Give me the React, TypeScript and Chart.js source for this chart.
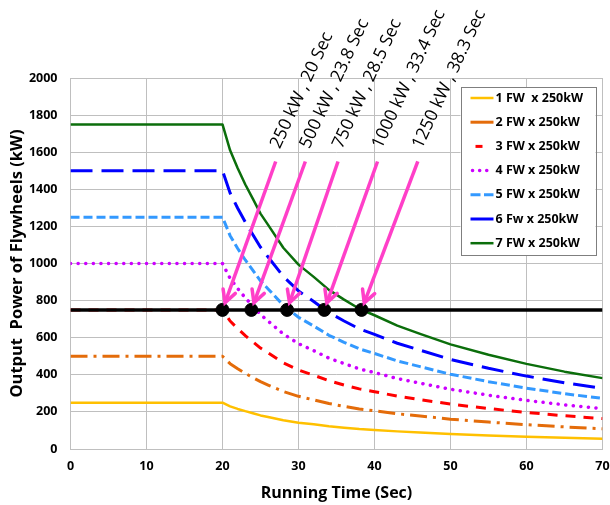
import React, { useEffect, useRef } from "react";
import { Chart, registerables } from "chart.js";

Chart.register(...registerables);

// ---- data ----
const times = [0, 20, 21, 22, 23, 24, 25, 26, 28, 30, 32, 34, 36, 38, 40, 43, 46, 50, 55, 60, 65, 70];
const fw1 = [250, 250, 230, 216, 204, 193, 181, 173, 155, 142, 133, 123, 115, 108, 103, 95, 89, 81, 73, 66, 60, 55];
const fw2 = [500, 500, 460, 433, 408, 385, 363, 345, 310, 284, 265, 245, 230, 216, 206, 190, 178, 161, 145, 131, 119, 109];
const fw3 = [750, 750, 690, 649, 611, 578, 544, 518, 465, 426, 398, 368, 345, 324, 309, 285, 266, 242, 218, 197, 179, 164];
const fw4 = [1000, 1000, 920, 865, 815, 770, 725, 690, 620, 568, 530, 490, 460, 432, 412, 380, 355, 322, 290, 262, 238, 218];
const fw5 = [1250, 1250, 1150, 1081, 1019, 963, 906, 863, 775, 710, 663, 613, 575, 540, 515, 475, 444, 403, 363, 328, 298, 273];
const fw6 = [1500, 1500, 1380, 1298, 1223, 1155, 1088, 1035, 930, 852, 795, 735, 690, 648, 618, 570, 533, 483, 435, 393, 357, 327];
const fw7 = [1750, 1750, 1610, 1514, 1426, 1348, 1269, 1208, 1085, 994, 928, 858, 805, 756, 721, 665, 621, 564, 508, 459, 417, 382];
const seriesLabels = [
  "1 FW  x 250kW",
  "2 FW x 250kW",
  "3 FW x 250kW",
  "4 FW x 250kW",
  "5 FW x 250kW",
  "6 Fw x 250kW",
  "7 FW x 250kW",
];
const limitX = [0, 70];
const limitY = [750, 750];
const markTimes = [20, 23.8, 28.5, 33.4, 38.3];
const markPower = [750, 750, 750, 750, 750];
const markLabels = [
  "250 kW , 20 Sec",
  "500 kW , 23.8 Sec",
  "750 kW , 28.5 Sec",
  "1000 kW , 33.4 Sec",
  "1250 kW , 38.3 Sec",
];
const arrowFromX = [27.0, 30.9, 35.2, 40.4, 45.7];
const arrowFromY = [1550, 1550, 1550, 1550, 1550];
const xMin = 0, xMax = 70, xStep = 10;
const yMin = 0, yMax = 2000, yStep = 200;
const xTitle = "Running Time (Sec)";
const yTitle = "Output  Power of Flywheels (kW)";

// ---- styles ----
const seriesValues = [fw1, fw2, fw3, fw4, fw5, fw6, fw7];
const seriesStyles = [
  { color: "#FFC000", width: 2.5, dash: [] as number[], cap: "butt" },
  { color: "#E46C0A", width: 3, dash: [17, 6, 3, 6], cap: "butt" },
  { color: "#FF0000", width: 3, dash: [10, 8], cap: "butt" },
  { color: "#CC00FF", width: 3.5, dash: [0.1, 7.5], cap: "round" },
  { color: "#3399FF", width: 3, dash: [9, 4], cap: "butt" },
  { color: "#0000FF", width: 3, dash: [22, 9], cap: "butt" },
  { color: "#0B6E0B", width: 2.5, dash: [] as number[], cap: "butt" },
];
const legendSamples = [
  { from: 0, to: 23, dash: [] as number[], cap: "butt" },
  { from: 0, to: 23, dash: [] as number[], cap: "butt" },
  { from: 5, to: 12, dash: [] as number[], cap: "butt" },
  { from: 2, to: 17, dash: [0.1, 7], cap: "round" },
  { from: 0, to: 23, dash: [10, 3.5], cap: "butt" },
  { from: 0, to: 23, dash: [] as number[], cap: "butt" },
  { from: 0, to: 23, dash: [] as number[], cap: "butt" },
];
const PINK = "#FF3FC8";
const GRID = "#BFBFBF";
const FONT = "'Open Sans', 'DejaVu Sans', sans-serif";

const overlayPlugin = {
  id: "overlay",
  afterDatasetsDraw(chart: any) {
    const ctx = chart.ctx;
    const xs = chart.scales.x;
    const ys = chart.scales.y;
    ctx.save();
    for (let i = 0; i < markTimes.length; i++) {
      const sx = xs.getPixelForValue(arrowFromX[i]);
      const sy = ys.getPixelForValue(arrowFromY[i]);
      const dx0 = xs.getPixelForValue(markTimes[i]);
      const dy0 = ys.getPixelForValue(markPower[i]);
      const ang = Math.atan2(dy0 - sy, dx0 - sx);
      const ex = dx0 - Math.cos(ang) * 7.5;
      const ey = dy0 - Math.sin(ang) * 7.5;
      ctx.strokeStyle = PINK;
      ctx.lineWidth = 3.5;
      ctx.lineCap = "butt";
      ctx.setLineDash([]);
      ctx.beginPath();
      ctx.moveTo(sx, sy);
      ctx.lineTo(ex, ey);
      ctx.stroke();
      const hl = 14;
      const spread = Math.PI / 6.5;
      ctx.lineCap = "round";
      ctx.beginPath();
      ctx.moveTo(ex - Math.cos(ang - spread) * hl, ey - Math.sin(ang - spread) * hl);
      ctx.lineTo(ex, ey);
      ctx.lineTo(ex - Math.cos(ang + spread) * hl, ey - Math.sin(ang + spread) * hl);
      ctx.stroke();
    }
    ctx.restore();
  },
  afterDraw(chart: any) {
    const ctx = chart.ctx;
    const xs = chart.scales.x;
    const ys = chart.scales.y;
    const area = chart.chartArea;
    ctx.save();
    ctx.fillStyle = "#000";
    ctx.font = `17.5px ${FONT}`;
    ctx.textAlign = "left";
    ctx.textBaseline = "alphabetic";
    for (let i = 0; i < markLabels.length; i++) {
      const sx = xs.getPixelForValue(arrowFromX[i]);
      const sy = ys.getPixelForValue(arrowFromY[i]);
      ctx.save();
      ctx.translate(sx + 4, sy - 12);
      ctx.rotate((-65 * Math.PI) / 180);
      ctx.fillText(markLabels[i], 0, 0);
      ctx.restore();
    }
    // legend
    const lx = area.right - 142;
    const ly = area.top + 9;
    const lw = 135;
    const lh = 168;
    ctx.fillStyle = "#fff";
    ctx.fillRect(lx, ly, lw, lh);
    ctx.strokeStyle = "#7F7F7F";
    ctx.lineWidth = 1;
    ctx.setLineDash([]);
    ctx.strokeRect(Math.round(lx) + 0.5, Math.round(ly) + 0.5, lw, lh);
    ctx.font = `bold 12.5px ${FONT}`;
    ctx.textBaseline = "middle";
    for (let i = 0; i < seriesLabels.length; i++) {
      const rowY = ly + 11 + i * 24.2;
      const st = seriesStyles[i];
      const sm = legendSamples[i];
      ctx.strokeStyle = st.color;
      ctx.lineWidth = st.width;
      ctx.lineCap = sm.cap as CanvasLineCap;
      ctx.setLineDash(sm.dash);
      ctx.beginPath();
      ctx.moveTo(lx + 10 + sm.from, rowY);
      ctx.lineTo(lx + 10 + sm.to, rowY);
      ctx.stroke();
      ctx.setLineDash([]);
      ctx.fillStyle = "#000";
      ctx.fillText(seriesLabels[i], lx + 35, rowY);
    }
    ctx.restore();
  },
};

export default function App() {
  const ref = useRef<HTMLCanvasElement | null>(null);
  useEffect(() => {
    if (!ref.current) return;
    const datasets: any[] = seriesValues.map((vals, i) => ({
      label: seriesLabels[i],
      data: vals.map((v, j) => ({ x: times[j], y: v })),
      borderColor: seriesStyles[i].color,
      borderWidth: seriesStyles[i].width,
      borderDash: seriesStyles[i].dash,
      borderCapStyle: seriesStyles[i].cap,
      borderJoinStyle: "round",
      pointRadius: 0,
      tension: 0,
      fill: false,
      order: 10 - i,
    }));
    datasets.push({
      label: "limit",
      data: limitX.map((x, j) => ({ x, y: limitY[j] })),
      borderColor: "#000",
      borderWidth: 3.5,
      pointRadius: 0,
      fill: false,
      order: 1,
    });
    datasets.push({
      label: "marks",
      data: markTimes.map((x, j) => ({ x, y: markPower[j] })),
      showLine: false,
      pointRadius: 6.5,
      pointBackgroundColor: "#000",
      pointBorderColor: "#000",
      borderColor: "#000",
      order: 0,
    });
    const chart = new Chart(ref.current, {
      type: "line",
      data: { datasets },
      plugins: [overlayPlugin],
      options: {
        animation: false,
        responsive: false,
        devicePixelRatio: 1,
        layout: { padding: { top: 78, right: 7.5, left: 0, bottom: 0 } },
        plugins: { legend: { display: false }, tooltip: { enabled: false } },
        scales: {
          x: {
            type: "linear",
            min: xMin,
            max: xMax,
            afterFit: (s: any) => { s.height = 56; s.paddingLeft = 0; s.paddingRight = 0; },
            ticks: {
              stepSize: xStep,
              color: "#000",
              font: { family: FONT, size: 12.5, weight: "bold" },
              padding: 10,
              maxRotation: 0,
            },
            grid: { color: GRID, drawTicks: false, lineWidth: 1 },
            border: { color: GRID },
            title: {
              display: true,
              text: xTitle,
              color: "#000",
              font: { family: FONT, size: 16, weight: "bold" },
              padding: { top: 0, bottom: 2 },
            },
          },
          y: {
            type: "linear",
            min: yMin,
            max: yMax,
            afterFit: (s: any) => { s.width = 70.5; s.paddingTop = 0; s.paddingBottom = 0; },
            ticks: {
              stepSize: yStep,
              color: "#000",
              font: { family: FONT, size: 12.5, weight: "bold" },
              padding: 13,
              callback: (v: any) => String(v),
            },
            grid: { color: GRID, drawTicks: false, lineWidth: 1 },
            border: { color: GRID },
            title: {
              display: true,
              text: yTitle,
              color: "#000",
              font: { family: FONT, size: 16.5, weight: "bold" },
              padding: { top: 7, bottom: 0 },
            },
          },
        },
      },
    } as any);
    return () => chart.destroy();
  }, []);
  return (
    <div style={{ position: "absolute", left: 0, top: 0, width: 610, height: 505, background: "#fff" }}>
      <canvas ref={ref} width={610} height={505} style={{ width: 610, height: 505 }} />
    </div>
  );
}
